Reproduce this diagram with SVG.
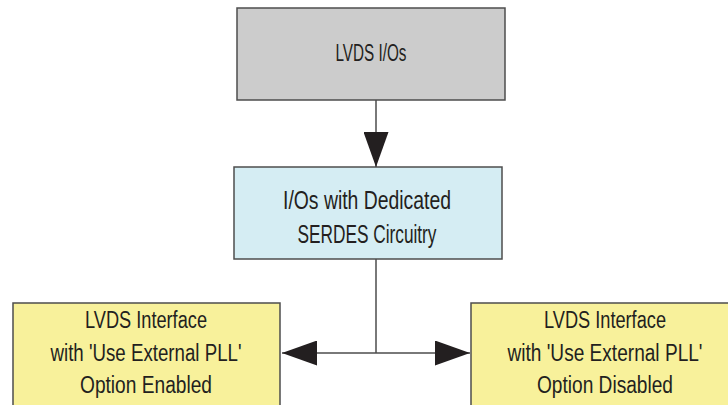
<svg xmlns="http://www.w3.org/2000/svg" width="728" height="405" viewBox="0 0 728 405">
<style>
.box{stroke:#4d4d4d;stroke-width:1.5}
.t{font-family:"Liberation Sans",Arial,sans-serif;font-size:23.5px;fill:#231f20;text-anchor:middle}
.m{font-size:25px}
.c{stroke:#4d4d4d;stroke-width:1.5;fill:none}
</style>
<defs>
<marker id="ah" viewBox="0 0 35 25" refX="35" refY="12.5" markerWidth="35" markerHeight="25" markerUnits="userSpaceOnUse" orient="auto">
<path d="M0,0 L35,12.5 L0,25 Z" fill="#231f20"/>
</marker>
</defs>
<rect width="728" height="405" fill="#ffffff"/>
<g id="lvds-ios">
<rect class="box" x="237" y="8" width="268" height="92" fill="#cccccc"/>
<text class="t" x="371" y="61" textLength="71" lengthAdjust="spacingAndGlyphs">LVDS I/Os</text>
</g>
<g id="serdes">
<rect class="box" x="234" y="167" width="268" height="92" fill="#d5edf3"/>
<text class="t m" x="367" y="209" textLength="168" lengthAdjust="spacingAndGlyphs">I/Os with Dedicated</text>
<text class="t m" x="367" y="243" textLength="139" lengthAdjust="spacingAndGlyphs">SERDES Circuitry</text>
</g>
<g id="enabled">
<rect class="box" x="13" y="303" width="267" height="110" fill="#f8f19b"/>
<text class="t" x="146" y="328" textLength="122" lengthAdjust="spacingAndGlyphs">LVDS Interface</text>
<text class="t" x="146" y="361" textLength="191" lengthAdjust="spacingAndGlyphs">with 'Use External PLL'</text>
<text class="t" x="146" y="393" textLength="132" lengthAdjust="spacingAndGlyphs">Option Enabled</text>
</g>
<g id="disabled">
<rect class="box" x="471" y="303" width="258" height="110" fill="#f8f19b"/>
<text class="t" x="605" y="328" textLength="122" lengthAdjust="spacingAndGlyphs">LVDS Interface</text>
<text class="t" x="605" y="361" textLength="195" lengthAdjust="spacingAndGlyphs">with 'Use External PLL'</text>
<text class="t" x="605" y="393" textLength="136" lengthAdjust="spacingAndGlyphs">Option Disabled</text>
</g>
<g id="connectors">
<line class="c" x1="376" y1="100" x2="376" y2="167" marker-end="url(#ah)"/>
<line class="c" x1="376" y1="259" x2="376" y2="353"/>
<line class="c" x1="376" y1="353" x2="282" y2="353" marker-end="url(#ah)"/>
<line class="c" x1="376" y1="353" x2="470" y2="353" marker-end="url(#ah)"/>
</g>
</svg>
